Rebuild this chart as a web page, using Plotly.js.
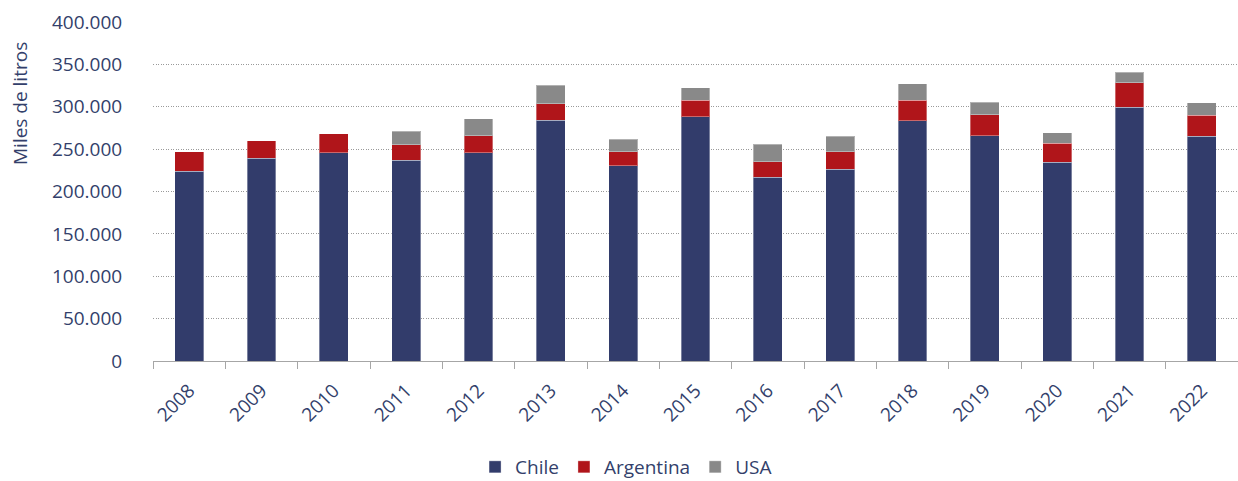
<!DOCTYPE html>
<html>
<head>
<meta charset="utf-8">
<script src="https://cdn.plot.ly/plotly-3.0.1.min.js"></script>
<style>html,body{margin:0;padding:0;background:#fff;}#chart{width:1238px;height:481px;}</style>
</head>
<body>
<div id="chart"></div>
<script>
const years = ['2008','2009','2010','2011','2012','2013','2014','2015','2016','2017','2018','2019','2020','2021','2022'];
const chile = [224000,239000,246000,237000,246000,284000,230500,288500,216700,226200,283400,265600,234500,299600,265300];
const argentina = [23000,21000,22000,18200,19600,19800,16500,19400,18500,20800,24500,24900,22500,28800,24900];
const usa = [0,0,0,15800,20200,21300,14700,14600,20600,18300,19400,14600,12600,12200,14500];
const yTicks = [0,50000,100000,150000,200000,250000,300000,350000,400000];
const yTitle = 'Miles de litros';

const textColor = '#333F6B';
const fontFam = '"Open Sans", "Noto Sans", sans-serif';

const traces = [
  {name:'Chile', x:years, y:chile, type:'bar', marker:{color:'#323C6B', line:{color:'rgba(255,255,255,0.35)', width:1}}},
  {name:'Argentina', x:years, y:argentina, type:'bar', marker:{color:'#B0151A', line:{color:'rgba(255,255,255,0.35)', width:1}}},
  {name:'USA', x:years, y:usa, type:'bar', marker:{color:'#898989', line:{color:'rgba(255,255,255,0.35)', width:1}}}
];

const layout = {
  width:1238, height:481,
  margin:{l:153, r:0, t:22, b:120, autoexpand:false},
  barmode:'stack',
  bargap:0.6,
  separators:',.',
  paper_bgcolor:'#fff', plot_bgcolor:'#fff',
  font:{family:fontFam, size:19, color:textColor},
  showlegend:true,
  legend:{orientation:'h', x:0.436, xanchor:'center', yref:'container', y:1-467/481, yanchor:'middle', font:{size:19, color:textColor}, traceorder:'normal', itemwidth:30},
  xaxis:{type:'category', automargin:false, tickson:'boundaries', ticks:'outside', ticklen:7, tickcolor:'#A6A6A6', showline:true, linecolor:'#A6A6A6', linewidth:1, tickangle:-45, ticklabelstandoff:10, showgrid:false, tickfont:{size:19, color:textColor}},
  yaxis:{range:[0,400000], automargin:false, tickvals:yTicks, tickformat:',.0f', showgrid:true, gridcolor:'#9A9A9A', griddash:'1px,1.5px', gridwidth:1, zeroline:false, ticks:'outside', ticklen:26, tickcolor:'rgba(0,0,0,0)', tickfont:{size:19, color:textColor}},
  annotations:[{text:yTitle, xref:'paper', yref:'paper', x:(20-153)/1085, y:(361-104)/339, textangle:-90, showarrow:false, xanchor:'center', yanchor:'middle', font:{size:19, color:textColor}}]
};

Plotly.newPlot('chart', traces, layout, {displayModeBar:false, responsive:false});
</script>
</body>
</html>
